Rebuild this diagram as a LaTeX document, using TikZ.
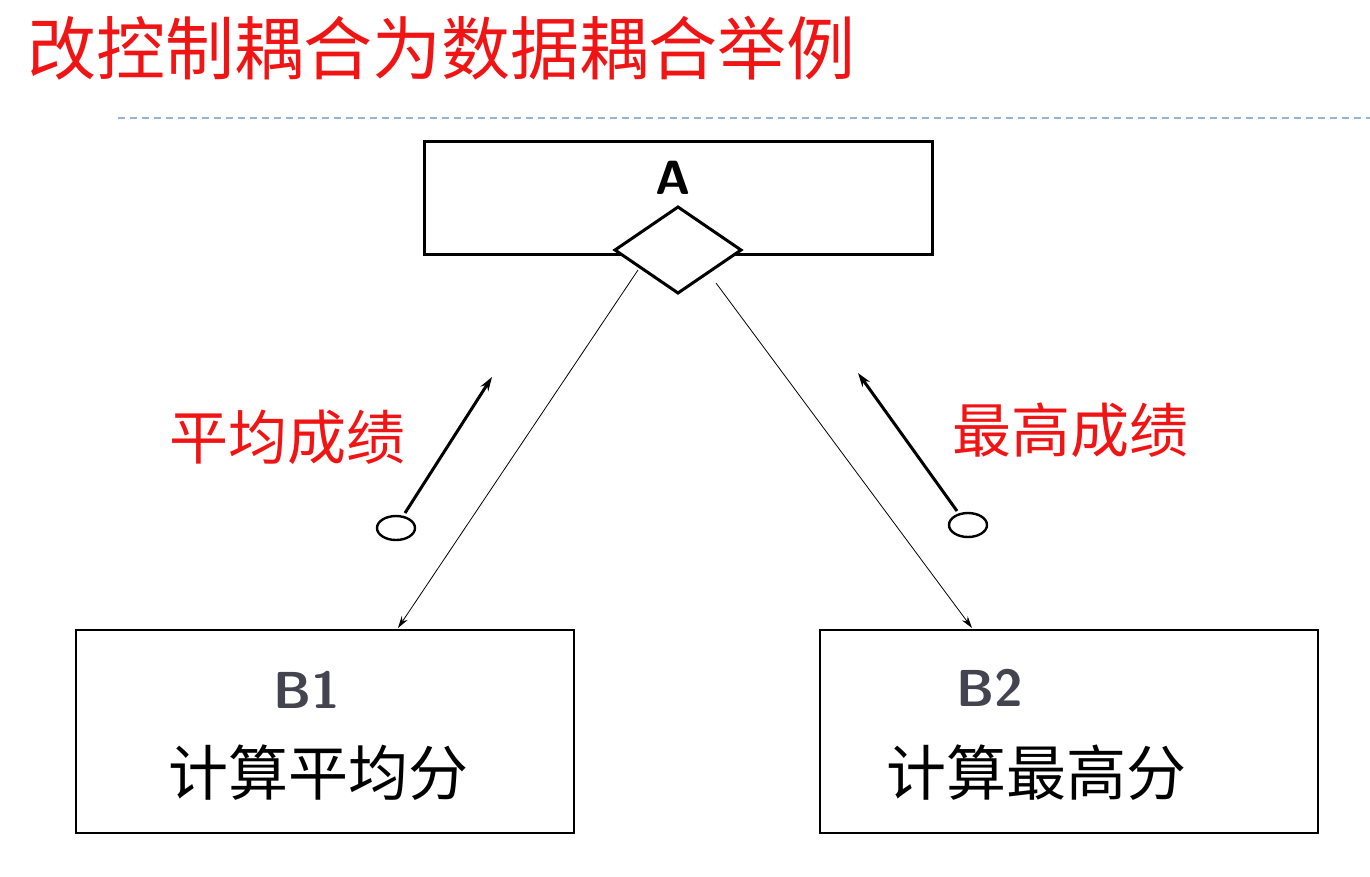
\documentclass[tikz,border=0pt]{standalone}
\usepackage{fontspec}
\newfontfamily\cjk{Noto Sans CJK SC}
\usetikzlibrary{shapes.geometric,arrows.meta}
\definecolor{titlered}{RGB}{240,20,20}
\definecolor{dashc}{RGB}{150,180,210}
\definecolor{bgray}{RGB}{68,68,80}
\tikzset{box/.style={draw,thick,line width=1.5pt},
 flow/.style={line width=3pt,-{Stealth[length=14pt,width=9pt]}},
 conn/.style={line width=0.8pt,-{Stealth[length=12pt,width=7pt]}}}
\begin{document}
\begin{tikzpicture}[x=1pt,y=-1pt]
\useasboundingbox (0,0) rectangle (1370,876);
\node[anchor=west,text=titlered,font=\cjk\fontsize{69}{69}\selectfont] (title) at (24,48) {改控制耦合为数据耦合举例};
\draw[dashc,dashed,line width=1.2pt,dash pattern=on 7pt off 5pt] (118,118) -- (1370,118);
\draw[line width=3pt] (424,141) rectangle (932,254);
\node[font=\sffamily\bfseries\fontsize{48}{48}\selectfont] (A) at (673,178) {A};
\draw[line width=3pt,fill=white] (678,207) -- (741,250) -- (678,293) -- (615,250) -- cycle;
\coordinate (d1) at (638,270); \coordinate (d2) at (716,283);
\draw[line width=1.5pt] (76,630) rectangle (574,833);
\draw[line width=1.5pt] (820,630) rectangle (1318,833);
\coordinate (b1) at (398,628); \coordinate (b2) at (972,628);
\draw[conn] (d1) -- (b1);
\draw[conn] (d2) -- (b2);
\draw[line width=2.4pt] (396,528) ellipse (19 and 12);
\draw[line width=2.4pt] (968,525) ellipse (19 and 12);
\coordinate (s1) at (405,513); \coordinate (e1) at (492,377);
\coordinate (s2) at (957,511); \coordinate (e2) at (858,373);
\draw[flow] (s1) -- (e1);
\draw[flow] (s2) -- (e2);
\node[text=titlered,font=\cjk\fontsize{59}{59}\selectfont] (l1) at (287,437) {平均成绩};
\node[text=titlered,font=\cjk\fontsize{59}{59}\selectfont] (l2) at (1070,430) {最高成绩};
\node[text=bgray,font=\sffamily\bfseries\fontsize{52}{52}\selectfont] (B1) at (307,690) {B1};
\node[text=bgray,font=\sffamily\bfseries\fontsize{52}{52}\selectfont] (B2) at (990,688) {B2};
\node[font=\cjk\fontsize{60}{60}\selectfont] (t1) at (318,773) {计算平均分};
\node[font=\cjk\fontsize{60}{60}\selectfont] (t2) at (1036,773) {计算最高分};
\end{tikzpicture}
\end{document}
